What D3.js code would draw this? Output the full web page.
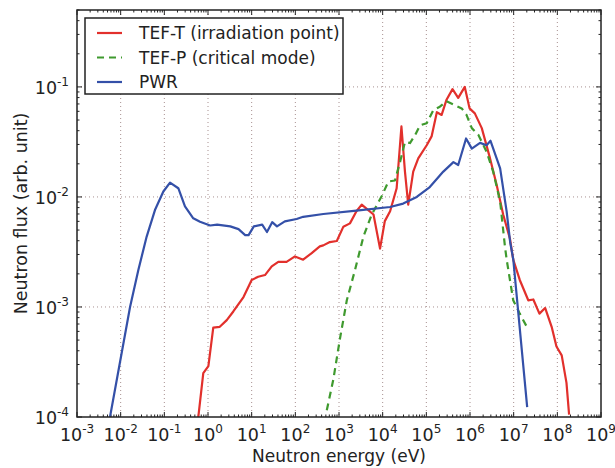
<html>
<head>
<style>
  body { margin: 0; background: #fff; }
  svg { font-family: "DejaVu Sans", sans-serif; }
</style>
</head>
<body>
<div id="chart"></div>
<script src="https://d3js.org/d3.v7.min.js"></script>
<script>
// values (energy in eV, flux in arb. unit)
const tefT_E = [0.60, 0.78, 1.02, 1.32, 1.86, 2.69, 3.8, 6.5, 10, 14.1, 20.2, 28.8, 40.7, 63, 98, 151, 237, 363, 437, 617, 891,
  1260, 1780, 2510, 3310, 4680, 6170, 8710, 11200, 14800, 20900, 26900, 32400, 38500, 50100, 65300,
  1.02e5, 1.32e5, 1.74e5, 2.24e5, 2.88e5, 3.98e5, 5.37e5, 7.59e5, 9.77e5, 1.29e6, 1.86e6, 2.88e6, 4.07e6, 5.75e6,
  8.22e6, 9.77e6, 1.38e7, 2.16e7, 2.82e7, 3.89e7, 5.25e7, 7.41e7, 9.55e7, 1.26e8, 1.62e8, 1.86e8];
const tefT_flux = [1.0e-4, 2.5e-4, 2.9e-4, 6.5e-4, 6.6e-4, 7.6e-4, 9.1e-4, 1.23e-3, 1.76e-3, 1.88e-3, 1.95e-3, 2.34e-3, 2.57e-3,
  2.57e-3, 2.88e-3, 2.69e-3, 3.09e-3, 3.55e-3, 3.63e-3, 3.89e-3, 3.98e-3,
  5.37e-3, 5.75e-3, 7.41e-3, 8.51e-3, 7.59e-3, 6.92e-3, 3.39e-3, 6.03e-3, 7.41e-3, 1.2e-2, 4.37e-2, 1.7e-2, 8.51e-3, 1.7e-2, 2.24e-2,
  2.95e-2, 3.55e-2, 5.89e-2, 5.56e-2, 7.59e-2, 9.55e-2, 7.94e-2, 0.1, 6.38e-2, 5.75e-2, 4.22e-2, 2.24e-2, 1.29e-2, 6.92e-3,
  4.17e-3, 2.69e-3, 1.76e-3, 1.15e-3, 1.17e-3, 8.7e-4, 9.8e-4, 6.6e-4, 4.37e-4, 3.63e-4, 2.04e-4, 1.05e-4];

const tefP_E = [525, 741, 1050, 1510, 2340, 3630, 5620, 9550, 13500, 19100, 25100, 32400, 42200, 55000, 71600,
  1.02e5, 1.45e5, 2.04e5, 2.88e5, 4.17e5, 6.46e5, 8.32e5, 1.1e6, 1.55e6, 2.4e6, 3.39e6, 4.9e6, 6.31e6, 6.92e6,
  9.77e6, 1.38e7, 2.0e7];
const tefP_flux = [1.15e-4, 2.19e-4, 5.13e-4, 1.15e-3, 2.19e-3, 4.37e-3, 6.92e-3, 1.02e-2, 1.38e-2, 1.41e-2, 2.09e-2, 3.16e-2,
  3.09e-2, 3.63e-2, 4.47e-2, 4.68e-2, 6.17e-2, 6.61e-2, 7.41e-2, 6.92e-2, 6.38e-2, 5.56e-2, 4.22e-2, 3.67e-2, 2.57e-2,
  1.7e-2, 9.1e-3, 3.55e-3, 2.69e-3, 1.15e-3, 8.7e-4, 6.6e-4];

const pwr_E = [5.7e-3, 1.64e-2, 2.54e-2, 3.94e-2, 6.1e-2, 9.5e-2, 0.135, 0.209, 0.297, 0.46, 0.656, 1.12, 1.62, 3.24,
  5.0, 7.1, 8.5, 11.2, 17.4, 22.4, 29.5, 38, 57.5, 107, 151, 437, 2510, 14800, 29500, 60300, 1.2e5, 2.45e5, 4.17e5, 5.37e5,
  8.13e5, 1.1e6, 1.7e6, 2.4e6, 2.95e6, 4.9e6, 6.9e6, 8.3e6, 9.8e6, 2.04e7];
const pwr_flux = [1.0e-4, 1.0e-3, 2.17e-3, 4.36e-3, 7.6e-3, 1.12e-2, 1.35e-2, 1.2e-2, 8.2e-3, 6.4e-3, 5.96e-3, 5.5e-3,
  5.6e-3, 5.4e-3, 5.1e-3, 4.5e-3, 4.5e-3, 5.4e-3, 5.6e-3, 4.8e-3, 5.9e-3, 5.4e-3, 6.0e-3, 6.3e-3, 6.6e-3, 7.0e-3, 7.5e-3,
  8.1e-3, 8.7e-3, 1.0e-2, 1.23e-2, 1.7e-2, 2.07e-2, 1.95e-2, 3.4e-2, 2.75e-2, 3.1e-2, 2.95e-2, 3.24e-2, 1.82e-2, 7.4e-3,
  3.9e-3, 2.7e-3, 1.23e-4];

const seriesNames = ["TEF-T (irradiation point)", "TEF-P (critical mode)", "PWR"];
const xTickExp = [-3, -2, -1, 0, 1, 2, 3, 4, 5, 6, 7, 8, 9];
const yTickExp = [-4, -3, -2, -1];

var width = 615, height = 468;
var margin = {left: 77, top: 10, right: 14, bottom: 51};
var w = width - margin.left - margin.right, h = height - margin.top - margin.bottom;

var svg = d3.select("#chart").append("svg")
  .attr("width", width).attr("height", height);

var x = d3.scaleLog().domain([1e-3, 1e9]).range([0, w]);
var y = d3.scaleLog().domain([1e-4, 0.5]).range([h, 0]);

var g = svg.append("g").attr("transform", `translate(${margin.left},${margin.top})`);

// grid
g.selectAll(".xgrid").data(xTickExp.slice(1, -1)).enter().append("line")
  .attr("x1", d => x(Math.pow(10, d))).attr("x2", d => x(Math.pow(10, d)))
  .attr("y1", 0).attr("y2", h)
  .attr("stroke", "#a89090").attr("stroke-width", 1).attr("stroke-dasharray", "1,3");
g.selectAll(".ygrid").data(yTickExp.slice(1)).enter().append("line")
  .attr("y1", d => y(Math.pow(10, d))).attr("y2", d => y(Math.pow(10, d)))
  .attr("x1", 0).attr("x2", w)
  .attr("stroke", "#a89090").attr("stroke-width", 1).attr("stroke-dasharray", "1,3");

// minor + major ticks, inward, on all four sides
var xMinor = [], yMinor = [];
for (let e = -3; e < 9; e++) for (let m = 2; m < 10; m++) xMinor.push(m * Math.pow(10, e));
for (let e = -4; e < 0; e++) for (let m = 2; m < 10; m++) if (m * Math.pow(10, e) <= 0.5) yMinor.push(m * Math.pow(10, e));

function tickSet(vals, len, horiz) {
  vals.forEach(v => {
    if (horiz) {
      let px = x(v);
      g.append("line").attr("x1", px).attr("x2", px).attr("y1", h).attr("y2", h - len).attr("stroke", "#222");
      g.append("line").attr("x1", px).attr("x2", px).attr("y1", 0).attr("y2", len).attr("stroke", "#222");
    } else {
      let py = y(v);
      g.append("line").attr("y1", py).attr("y2", py).attr("x1", 0).attr("x2", len).attr("stroke", "#222");
      g.append("line").attr("y1", py).attr("y2", py).attr("x1", w).attr("x2", w - len).attr("stroke", "#222");
    }
  });
}
tickSet(xMinor, 2.5, true);
tickSet(xTickExp.map(e => Math.pow(10, e)), 5, true);
tickSet(yMinor, 2.5, false);
tickSet(yTickExp.map(e => Math.pow(10, e)), 5, false);

// tick labels
xTickExp.forEach(e => {
  var t = g.append("text").attr("x", x(Math.pow(10, e))).attr("y", h + 24)
    .attr("text-anchor", "middle").attr("font-size", 17.5).attr("fill", "#222");
  t.append("tspan").text("10");
  t.append("tspan").attr("font-size", 12).attr("dy", -8).text(e);
});
yTickExp.forEach(e => {
  var t = g.append("text").attr("x", -8).attr("y", y(Math.pow(10, e)) + 7)
    .attr("text-anchor", "end").attr("font-size", 17.5).attr("fill", "#222");
  t.append("tspan").text("10");
  t.append("tspan").attr("font-size", 12).attr("dy", -8).text(e);
});

// axis labels
svg.append("text").attr("x", margin.left + w / 2).attr("y", 462)
  .attr("text-anchor", "middle").attr("font-size", 17).attr("fill", "#222").text("Neutron energy (eV)");
svg.append("text").attr("transform", `translate(27,${margin.top + h / 2}) rotate(-90)`)
  .attr("text-anchor", "middle").attr("font-size", 17.5).attr("fill", "#222").text("Neutron flux (arb. unit)");

// curves
var series = [
  {name: seriesNames[0], E: tefT_E, f: tefT_flux, color: "#e2302c", dash: null},
  {name: seriesNames[1], E: tefP_E, f: tefP_flux, color: "#3f9a2e", dash: "7,5"},
  {name: seriesNames[2], E: pwr_E, f: pwr_flux, color: "#3450a8", dash: null}
];
var line = d3.line().x(d => x(d[0])).y(d => y(d[1]));
g.append("clipPath").attr("id", "clip").append("rect").attr("width", w).attr("height", h);
series.forEach(s => {
  g.append("path").datum(s.E.map((e, i) => [e, s.f[i]]))
    .attr("d", line).attr("fill", "none").attr("stroke", s.color).attr("stroke-width", 2.2)
    .attr("stroke-linejoin", "round")
    .attr("stroke-dasharray", s.dash).attr("clip-path", "url(#clip)");
});

// frame
g.append("rect").attr("width", w).attr("height", h).attr("fill", "none").attr("stroke", "#222").attr("stroke-width", 1.5);

// legend
var lg = g.append("g").attr("transform", "translate(8,8)");
lg.append("rect").attr("width", 258).attr("height", 76).attr("fill", "#fff").attr("stroke", "#222").attr("stroke-width", 1.5);
series.forEach((s, i) => {
  var yy = 15 + i * 24.5;
  lg.append("line").attr("x1", 12).attr("x2", 37).attr("y1", yy).attr("y2", yy)
    .attr("stroke", s.color).attr("stroke-width", 2.2).attr("stroke-dasharray", s.dash);
  lg.append("text").attr("x", 54).attr("y", yy + 6).attr("font-size", 17).attr("fill", "#222").text(s.name);
});
</script>
</body>
</html>
